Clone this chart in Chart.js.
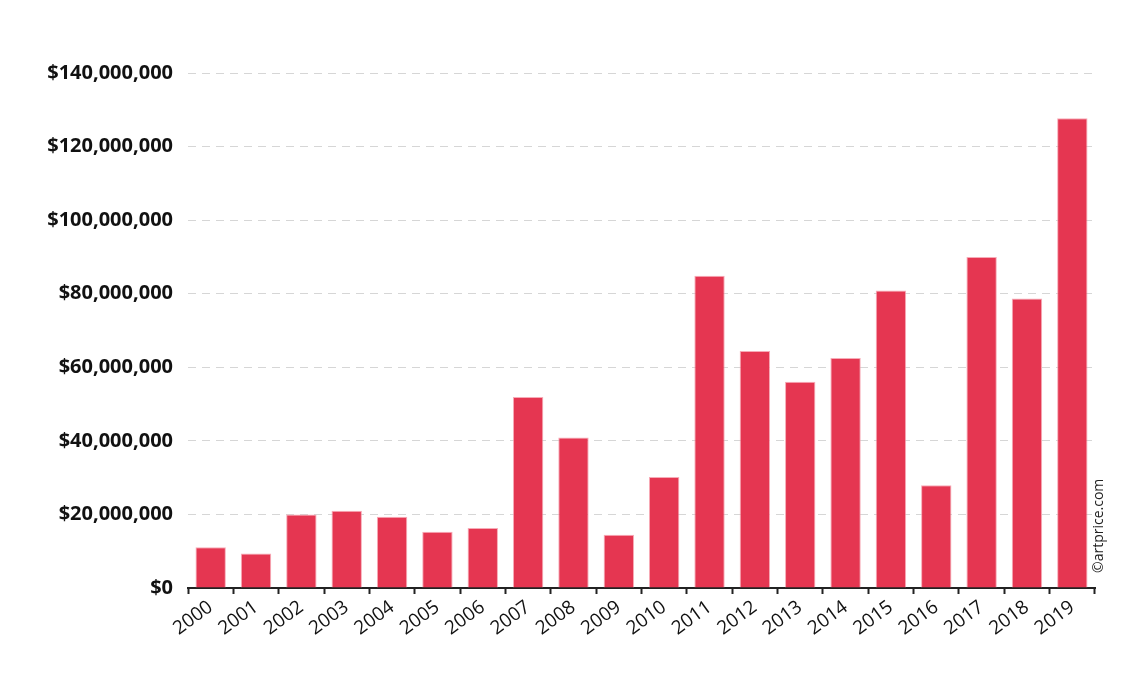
<!DOCTYPE html>
<html>
<head>
<meta charset="utf-8">
<script src="https://cdn.jsdelivr.net/npm/chart.js@4"></script>
<style>
  body { margin: 0; background: #fff; }
  canvas { display: block; }
</style>
</head>
<body>
<canvas id="mychart" width="1140" height="676"></canvas>
<script>
var years = ['2000','2001','2002','2003','2004','2005','2006','2007','2008','2009',
             '2010','2011','2012','2013','2014','2015','2016','2017','2018','2019'];
var turnover = [11100000, 9400000, 20000000, 21000000, 19400000, 15300000, 16300000, 51900000, 40900000, 14500000,
                30200000, 84900000, 64400000, 56100000, 62500000, 80900000, 27900000, 90000000, 78700000, 127700000];
var yMax = 140000000;
var yStep = 20000000;

// vertical credit on the right
var credit = {
  id: 'credit',
  afterDraw: function(chart) {
    var c = chart.ctx;
    c.save();
    c.translate(1103, 573);
    c.rotate(-Math.PI / 2);
    c.font = '14px "Open Sans"';
    c.fillStyle = '#222';
    c.textAlign = 'left';
    c.textBaseline = 'alphabetic';
    c.fillText('\u00a9artprice.com', 0, 0);
    c.restore();
  }
};

var ctx = document.getElementById('mychart');
var barGraph = new Chart(ctx, {
  type: 'bar',
  data: {
    labels: years,
    datasets: [{
      data: turnover,
      backgroundColor: '#e53651',
      borderColor: 'rgba(245,150,165,0.8)',
      borderWidth: { top: 1, left: 1, right: 1, bottom: 0 },
      barPercentage: 0.67,
      categoryPercentage: 1.0
    }]
  },
  options: {
    responsive: false,
    animation: false,
    layout: { padding: { left: 0, right: 45, top: 73, bottom: 0 } },
    plugins: {
      legend: { display: false },
      tooltip: { enabled: false }
    },
    scales: {
      x: {
        afterFit: function(scale) { scale.height = 88; },
        grid: {
          offset: true,
          drawOnChartArea: false,
          tickLength: 6,
          tickWidth: 2,
          tickColor: '#222'
        },
        border: { color: '#222', width: 2 },
        ticks: {
          minRotation: 36,
          maxRotation: 36,
          padding: 2,
          color: '#111',
          font: { family: '"Open Sans"', size: 19 }
        }
      },
      y: {
        z: 1,
        min: 0,
        max: yMax,
        afterFit: function(scale) { scale.width = 188; },
        grid: {
          color: 'rgba(0,0,0,0.16)',
          lineWidth: 1,
          drawTicks: false
        },
        border: { display: false, dash: [8, 6] },
        ticks: {
          stepSize: yStep,
          padding: 15,
          color: '#111',
          font: { family: '"Open Sans"', size: 20, weight: 'bold' },
          callback: function(v) { return '$' + v.toLocaleString('en-US'); }
        }
      }
    }
  },
  plugins: [credit]
});
</script>
</body>
</html>
